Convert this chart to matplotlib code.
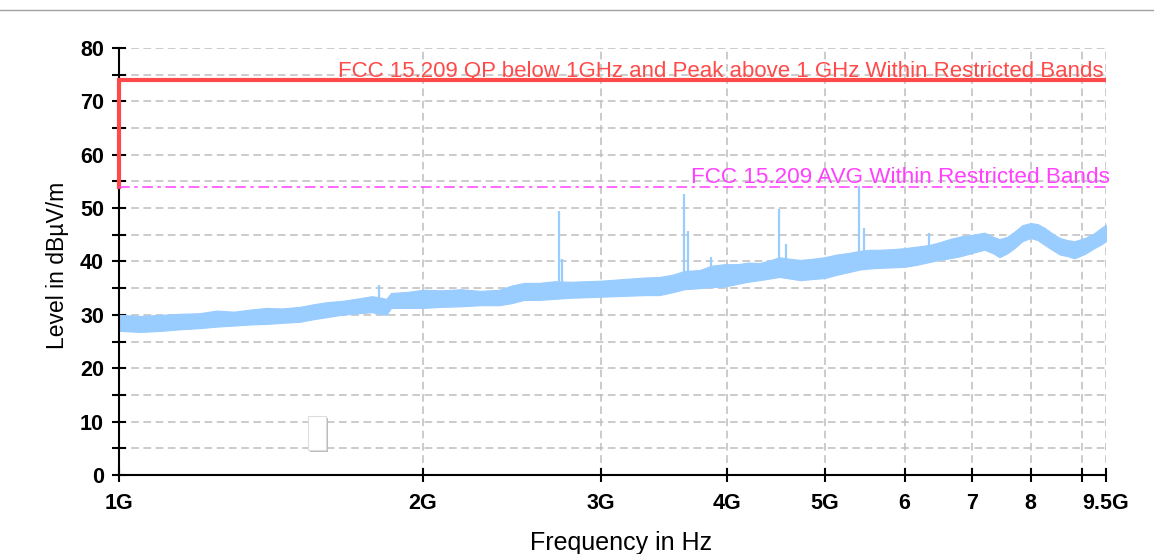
"""
EMC radiated emission scan, 1 GHz - 9.5 GHz, against FCC 15.209 limits.
"""
import numpy as np
import matplotlib
matplotlib.use('Agg')
import matplotlib.pyplot as plt
from matplotlib.lines import Line2D
from matplotlib.patches import Rectangle
from matplotlib.ticker import FixedLocator, NullFormatter

freq_ghz = [1.00, 1.05, 1.10, 1.15, 1.20, 1.25, 1.30, 1.35, 1.40, 1.45,
            1.51, 1.56, 1.61, 1.66, 1.73, 1.78, 1.81, 1.84, 1.86, 1.93,
            2.00, 2.09, 2.18, 2.28, 2.38, 2.45, 2.52, 2.61, 2.70, 2.80,
            2.90, 3.00, 3.10, 3.21, 3.32, 3.43, 3.53, 3.63, 3.76, 3.86,
            3.98, 4.10, 4.20, 4.31, 4.41, 4.51, 4.62, 4.73, 4.86, 5.00,
            5.14, 5.28, 5.42, 5.55, 5.67, 5.83, 6.00, 6.18, 6.35, 6.50,
            6.65, 6.82, 7.00, 7.20, 7.35, 7.45, 7.58, 7.71, 7.85, 8.00,
            8.13, 8.26, 8.40, 8.55, 8.70, 8.84, 9.05, 9.25, 9.40, 9.50]
level_lo = [27.0, 26.8, 27.0, 27.3, 27.5, 27.8, 28.0, 28.2, 28.3, 28.5,
            28.7, 29.2, 29.6, 30.0, 30.3, 30.5, 30.2, 30.0, 31.3, 31.3,
            31.3, 31.5, 31.6, 31.8, 31.8, 32.2, 32.8, 32.8, 33.0, 33.2,
            33.3, 33.4, 33.5, 33.6, 33.7, 33.7, 34.2, 34.8, 35.0, 35.2,
            35.3, 35.8, 36.2, 36.5, 36.8, 37.1, 36.8, 36.5, 36.7, 36.9,
            37.5, 38.0, 38.5, 38.7, 38.8, 38.9, 39.0, 39.4, 39.9, 40.3,
            40.6, 41.0, 41.6, 42.2, 41.5, 40.8, 41.5, 42.5, 43.8, 44.4,
            44.0, 43.1, 42.2, 41.3, 41.0, 40.6, 41.4, 42.5, 43.2, 43.8]
level_hi = [30.0, 29.8, 30.0, 30.2, 30.3, 30.8, 30.6, 31.0, 31.3, 31.2,
            31.5, 32.0, 32.4, 32.6, 33.1, 33.5, 33.3, 33.0, 34.1, 34.3,
            34.7, 34.6, 34.8, 34.5, 34.7, 35.5, 36.0, 36.0, 36.3, 36.2,
            36.3, 36.4, 36.6, 36.8, 37.0, 37.1, 37.5, 38.2, 38.4, 39.2,
            39.5, 39.5, 39.8, 39.7, 40.2, 40.8, 40.5, 40.3, 40.5, 40.8,
            41.3, 41.6, 42.0, 42.2, 42.2, 42.3, 42.5, 42.8, 43.1, 43.6,
            44.2, 44.7, 45.0, 45.4, 44.6, 44.2, 44.6, 45.6, 46.8, 47.2,
            47.0, 46.3, 45.3, 44.4, 44.0, 43.8, 44.4, 45.3, 46.3, 46.9]

# narrow spurs on top of the noise floor
spur_ghz  = [1.81, 2.73, 2.75, 3.63, 3.66, 3.86, 4.51, 4.58, 5.41, 5.47, 6.35]
spur_base = [33.0, 36.0, 36.0, 38.0, 38.0, 39.0, 40.0, 40.0, 41.5, 41.5, 42.5]
spur_peak = [35.6, 49.5, 40.4, 52.6, 45.8, 40.8, 49.8, 43.2, 54.2, 46.3, 45.3]

# ── Limit lines ────────────────────────────────────────────────────────
limit_ghz = [1.0, 9.5]
qp_limit  = [74.0, 74.0]
avg_limit = [54.0, 54.0]
qp_text  = 'FCC 15.209 QP below 1GHz and Peak above 1 GHz Within Restricted Bands'
avg_text = 'FCC 15.209 AVG Within Restricted Bands'

x_ticks  = [1, 2, 3, 4, 5, 6, 7, 8, 9, 9.5]
x_labels = ['1G', '2G', '3G', '4G', '5G', '6', '7', '8', '', '9.5G']

TRACE = '#99CCFF'
QP_RED = '#FF4A4A'
AVG_MAG = '#FF40FF'
GRID = '#BDBDBD'

plt.rcParams['font.family'] = ['Liberation Sans', 'DejaVu Sans']

fig = plt.figure(figsize=(11.54, 5.54), dpi=100)
ax = fig.add_axes([0.1031, 0.1426, 0.8553, 0.7708])

# ── Trace ──────────────────────────────────────────────────────────────
ax.fill_between(freq_ghz, level_lo, level_hi, color=TRACE, lw=0.8,
                edgecolor=TRACE)
ax.vlines(spur_ghz, spur_base, spur_peak, color=TRACE, lw=1.6)

# ── Limits ─────────────────────────────────────────────────────────────
ax.plot(limit_ghz, qp_limit, color=QP_RED, lw=3, solid_capstyle='butt',
        zorder=4, clip_on=False)
ax.plot([limit_ghz[0], limit_ghz[0]], [avg_limit[0], qp_limit[0]],
        color=QP_RED, lw=3, solid_capstyle='projecting', zorder=4, clip_on=False)
ax.plot(limit_ghz, avg_limit, color=AVG_MAG, lw=1.1,
        dashes=(7, 3, 2.2, 3), zorder=4)

ax.annotate(qp_text, xy=(limit_ghz[1], qp_limit[1]), xytext=(-2, 2),
            textcoords='offset points', ha='right', va='baseline',
            fontsize=16, color=QP_RED, zorder=5)
ax.annotate(avg_text, xy=(limit_ghz[1], avg_limit[1]), xytext=(3, 2.5),
            textcoords='offset points', ha='right', va='baseline',
            fontsize=16.2, color=AVG_MAG, zorder=5, annotation_clip=False)

# ── Axes ───────────────────────────────────────────────────────────────
ax.set_xscale('log')
ax.set_xlim(1, 9.5)
ax.set_ylim(0, 80)

ax.xaxis.set_major_locator(FixedLocator(x_ticks))
ax.xaxis.set_minor_locator(FixedLocator([]))
ax.set_xticklabels(x_labels)
ax.xaxis.set_minor_formatter(NullFormatter())
ax.set_yticks(np.arange(0, 81, 10))
ax.set_yticks(np.arange(5, 80, 10), minor=True)

ax.grid(True, which='both', color=GRID, lw=1.1, ls=(0, (5, 3)))
ax.set_axisbelow(True)

for side in ['top', 'right']:
    ax.spines[side].set_visible(False)
for side in ['left', 'bottom']:
    ax.spines[side].set_linewidth(1.5)

ax.tick_params(axis='y', which='both', direction='inout', length=9.5,
               width=1.5, pad=6, labelsize=15.5)
ax.tick_params(axis='x', which='both', direction='inout', length=10.5,
               width=1.5, pad=8, labelsize=15.5)
for lbl in ax.get_xticklabels() + ax.get_yticklabels():
    lbl.set_fontweight('bold')

ax.set_xlabel('Frequency in Hz', fontsize=18)
ax.set_ylabel('Level in dBµV/m', fontsize=16.5)
ax.xaxis.set_label_coords(0.509, -0.13)
ax.yaxis.set_label_coords(-0.051, 0.49)

# window decorations seen in the screenshot
fig.add_artist(Line2D([0, 1], [0.982, 0.982], color='#A0A0A0', lw=1))
fig.add_artist(Rectangle((0.2687, 0.1842), 0.0156, 0.0614,
                         facecolor='#BBBBBB', edgecolor='none'))
fig.add_artist(Rectangle((0.2669, 0.1877), 0.0156, 0.0614,
                         facecolor='white', edgecolor='#DDDDDD', lw=0.8))

fig.savefig('out.png', dpi=100)
